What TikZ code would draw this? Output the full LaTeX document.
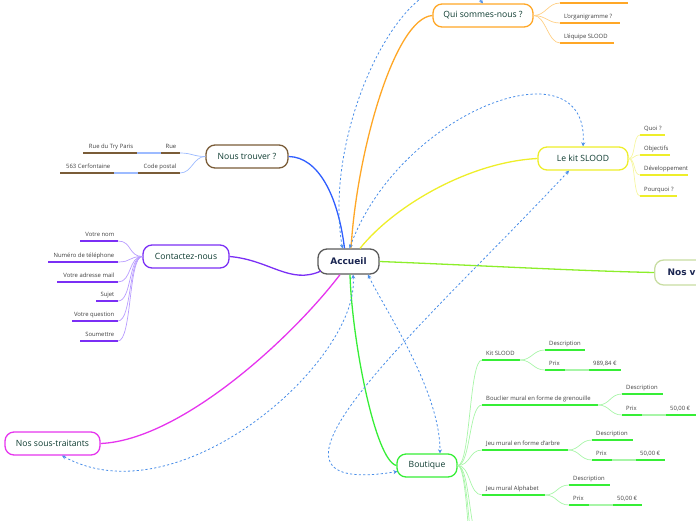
\documentclass[tikz,border=0pt]{standalone}
\usepackage{fontspec}
\setmainfont{Open Sans}
\newfontfamily\djv{DejaVu Sans}
\usetikzlibrary{arrows.meta,calc}
\definecolor{ttl}{HTML}{0D3B30}
\definecolor{nav}{HTML}{1B2652}
\definecolor{txt}{HTML}{404040}
\definecolor{acc}{HTML}{5A5A5A}
\definecolor{ora}{HTML}{FFA726}
\definecolor{lora}{HTML}{FFCF85}
\definecolor{yel}{HTML}{EEEE2A}
\definecolor{lyel}{HTML}{F6F6A0}
\definecolor{brn}{HTML}{7A5C38}
\definecolor{blu}{HTML}{2F5EFF}
\definecolor{lblu}{HTML}{9DBBFF}
\definecolor{pur}{HTML}{7B2FF5}
\definecolor{lpur}{HTML}{B89CFF}
\definecolor{mag}{HTML}{E635EE}
\definecolor{grn}{HTML}{36EE36}
\definecolor{lgrn}{HTML}{A8F5A8}
\definecolor{lim}{HTML}{8CEE2A}
\definecolor{nvb}{HTML}{C8DDA2}
\definecolor{relc}{HTML}{4A8EE8}
\tikzset{
 topic/.style={draw, rounded corners=9pt, fill=white, line width=1.3pt, minimum height=23pt, inner xsep=6pt, inner ysep=2pt, font=\fontsize{8.6}{10}\selectfont, text=ttl},
 boldtopic/.style={topic, text=nav, font={\djv\bfseries\fontsize{9}{10}\selectfont}},
 lbl/.style={font=\fontsize{5.9}{6.5}\selectfont, text=txt, inner sep=0pt},
 ul/.style={line width=1.5pt},
 bridge/.style={line width=1.3pt},
 mainc/.style={line width=1.3pt},
 subc/.style={line width=0.7pt},
 relboth/.style={draw=relc, line width=0.8pt, dash pattern=on 2.2pt off 2.2pt, arrows={Stealth[length=4pt,width=4pt]-Stealth[length=4pt,width=4pt]}}
}
% item going right: name, x1, x2, y, colour, text
\newcommand\mmR[6]{%
  \coordinate (#1-l) at (#2,#4); \coordinate (#1-r) at (#3,#4);
  \draw[ul,#5] (#1-l) -- (#1-r);
  \node[lbl,anchor=base west] (#1) at ($(#1-l)+(4,-4.5)$) {#6};}
% item going left: text right aligned
\newcommand\mmL[6]{%
  \coordinate (#1-l) at (#2,#4); \coordinate (#1-r) at (#3,#4);
  \draw[ul,#5] (#1-l) -- (#1-r);
  \node[lbl,anchor=base east] (#1) at ($(#1-r)+(-3.5,-4.5)$) {#6};}
% branch curve: from, to, horizontal control length, colour
\newcommand\bz[4]{\draw[subc,#4] (#1) .. controls ($(#1)+(#3,0)$) and ($(#2)-(#3,0)$) .. (#2);}
\begin{document}
\begin{tikzpicture}[x=1pt,y=-1pt]
\useasboundingbox (0,0) rectangle (696,520);

% ---------- main topics
\node[boldtopic, draw=acc, minimum width=61pt, minimum height=25pt] (acc) at (348.5,261.5) {Accueil};
\node[topic, draw=ora, minimum width=100pt] (qui) at (483,15.5) {Qui sommes-nous ?};
\node[topic, draw=yel, minimum width=90pt] (kit) at (583,158.5) {Le kit SLOOD};
\node[boldtopic, draw=nvb, anchor=west, minimum height=25pt, text width=84pt, align=left, inner xsep=13pt] (nosv) at (654,272.5) {Nos v};
\node[topic, draw=brn, minimum width=82pt] (nt) at (247,156.5) {Nous trouver ?};
\node[topic, draw=pur, minimum width=86pt] (ct) at (186,256.5) {Contactez-nous};
\node[topic, draw=mag, minimum width=95pt] (st) at (52.5,443.5) {Nos sous-traitants};
\node[topic, draw=grn, minimum width=60pt] (bt) at (427,465.5) {Boutique};

% attachment points on Accueil
\coordinate (aN1) at ($(acc.north)+(-4,0)$);
\coordinate (aN2) at ($(acc.north)+(2.5,0)$);
\coordinate (aN3) at ($(acc.north)+(11.5,0)$);
\coordinate (aN4) at ($(acc.north)+(-6,0)$);
\coordinate (aN5) at ($(acc.north)+(1,0)$);
\coordinate (aS1) at ($(acc.south)+(1.5,0)$);
\coordinate (aS2) at ($(acc.south)+(-8.5,0)$);
\coordinate (aS3) at ($(acc.south)+(4.5,0)$);
\coordinate (aS4) at ($(acc.south)+(19.5,0)$);
\coordinate (aW) at (321,271);

% ---------- main connectors
\draw[mainc, blu] (nt.east) .. controls (318,157) and (338,195) .. (aN1);
\draw[mainc, ora] (qui.west) .. controls (395,18) and (357,150) .. (aN2);
\draw[mainc, yel] (kit.west) .. controls (470,162) and (395,205) .. (aN3);
\draw[mainc, lim] (acc.east) .. controls (470,265) and (580,271) .. (nosv.west);
\draw[mainc, pur] (ct.east) .. controls (270,260) and (290,285) .. (aW);
\draw[mainc, mag] (st.east) .. controls (180,440) and (290,340) .. (aS2);
\draw[mainc, grn] (bt.west) .. controls (375,460) and (352,340) .. (aS1);

% ---------- Qui sommes-nous ?
\coordinate (q0-l) at (560,3); \coordinate (q0-r) at (628,3);
\draw[ul,ora] (q0-l) -- (q0-r);
\mmR{q1}{560}{620}{23}{ora}{L'organigramme ?}
\mmR{q2}{560}{614}{43}{ora}{L'équipe SLOOD}
\bz{qui.east}{q0-l}{12}{lora}
\bz{qui.east}{q1-l}{12}{lora}
\bz{qui.east}{q2-l}{12}{lora}

% ---------- Le kit SLOOD
\mmR{k1}{640}{665}{135}{yel}{Quoi ?}
\mmR{k2}{640}{670}{155}{yel}{Objectifs}
\mmR{k3}{640}{688}{175}{yel}{Développement}
\mmR{k4}{640}{677}{196}{yel}{Pourquoi ?}
\bz{kit.east}{k1-l}{7}{lyel}
\bz{kit.east}{k2-l}{7}{lyel}
\bz{kit.east}{k3-l}{7}{lyel}
\bz{kit.east}{k4-l}{7}{lyel}

% ---------- Nous trouver ?
\mmL{r1}{161}{180}{153}{brn}{Rue}
\mmL{r2}{83}{137}{153}{brn}{Rue du Try Paris}
\draw[bridge,lblu] (r2-r) -- (r1-l);
\mmL{c1}{138}{180}{173}{brn}{Code postal}
\mmL{c2}{60}{114}{173}{brn}{563 Cerfontaine}
\draw[bridge,lblu] (c2-r) -- (c1-l);
\bz{nt.west}{r1-r}{-12}{lblu}
\bz{nt.west}{c1-r}{-12}{lblu}

% ---------- Contactez-nous
\mmL{f1}{80}{118}{241}{pur}{Votre nom}
\mmL{f2}{48}{118}{262}{pur}{Numéro de téléphone}
\mmL{f3}{57}{118}{282}{pur}{Votre adresse mail}
\mmL{f4}{96}{118}{301}{pur}{Sujet}
\mmL{f5}{72}{118}{321}{pur}{Votre question}
\mmL{f6}{80}{118}{341}{pur}{Soumettre}
\foreach \f in {f1,f2,f3,f4,f5,f6}{\bz{ct.west}{\f-r}{-14}{lpur}}

% ---------- Boutique
\mmR{b1}{482}{520}{360}{grn}{Kit SLOOD}
\mmR{b1d}{545}{585}{350}{grn}{Description}
\mmR{b1p}{545}{565}{370}{grn}{Prix}
\mmR{b1v}{589}{621}{370}{grn}{989,84 €}
\draw[bridge,lgrn] (b1p-r) -- (b1v-l);
\bz{b1-r}{b1d-l}{12}{lgrn}
\bz{b1-r}{b1p-l}{12}{lgrn}

\mmR{b2}{482}{598}{405}{grn}{Bouclier mural en forme de grenouille}
\mmR{b2d}{622}{663}{394}{grn}{Description}
\mmR{b2p}{622}{642}{415}{grn}{Prix}
\mmR{b2v}{666}{700}{415}{grn}{50,00 €}
\draw[bridge,lgrn] (b2p-r) -- (b2v-l);
\bz{b2-r}{b2d-l}{12}{lgrn}
\bz{b2-r}{b2p-l}{12}{lgrn}

\mmR{b3}{482}{568}{450}{grn}{Jeu mural en forme d'arbre}
\mmR{b3d}{592}{633}{440}{grn}{Description}
\mmR{b3p}{592}{612}{460}{grn}{Prix}
\mmR{b3v}{636}{665}{460}{grn}{50,00 €}
\draw[bridge,lgrn] (b3p-r) -- (b3v-l);
\bz{b3-r}{b3d-l}{12}{lgrn}
\bz{b3-r}{b3p-l}{12}{lgrn}

\mmR{b4}{482}{545}{495}{grn}{Jeu mural Alphabet}
\mmR{b4d}{569}{610}{485}{grn}{Description}
\mmR{b4p}{569}{589}{505}{grn}{Prix}
\mmR{b4v}{613}{642}{505}{grn}{50,00 €}
\draw[bridge,lgrn] (b4p-r) -- (b4v-l);
\bz{b4-r}{b4d-l}{12}{lgrn}
\bz{b4-r}{b4p-l}{12}{lgrn}

\coordinate (b5-l) at (482,545);
\coordinate (b6-l) at (482,590);
\coordinate (b7-l) at (482,635);
\foreach \b in {b1,b2,b3,b4,b5,b6,b7}{\bz{bt.east}{\b-l}{13}{lgrn}}

% ---------- relationships
\draw[relboth] (aN4) .. controls (320,120) and (420,-70) .. (qui.north);
\draw[relboth] (aN5) .. controls (400,110) and (590,40) .. (kit.north);
\draw[relboth] ($(kit.south)+(-14,0)$) .. controls (430,320) and (220,500) .. ($(bt.west)+(1,6)$);
\draw[relboth] (aS4) .. controls (385,310) and (440,390) .. ($(bt.north)+(13,0)$);
\draw[relboth] (aS3) .. controls (360,360) and (180,520) .. ($(st.south)+(9.5,0)$);
\end{tikzpicture}
\end{document}
